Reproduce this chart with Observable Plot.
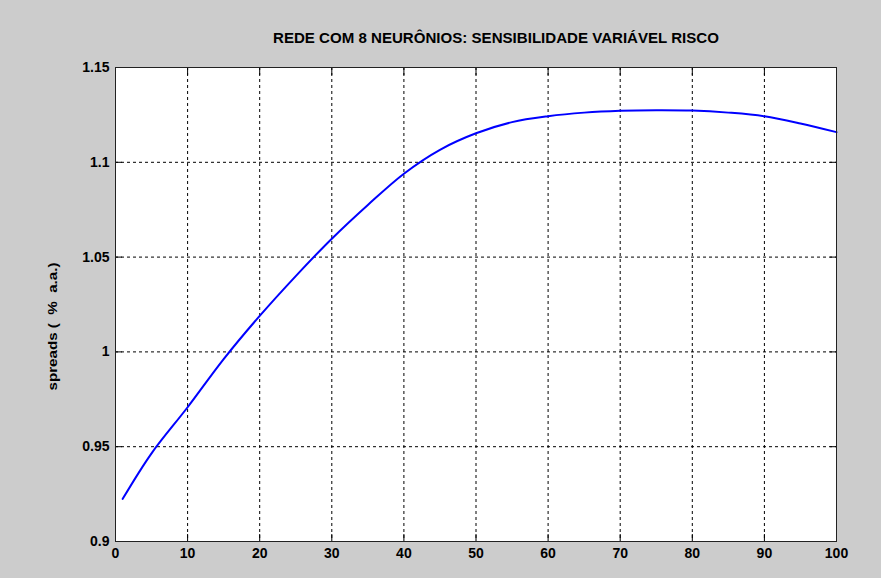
<!DOCTYPE html>
<html>
<head>
<meta charset="utf-8">
<script src="https://cdn.jsdelivr.net/npm/d3@7"></script>
<script src="https://cdn.jsdelivr.net/npm/@observablehq/plot@0.6"></script>
<style>
  html, body { margin: 0; padding: 0; background: #cccccc; }
  #chart { width: 881px; height: 578px; }
</style>
</head>
<body>
<div id="chart"></div>
<script>
// ---- data ----
const xValues = [1, 5, 10, 15, 20, 25, 30, 35, 40, 45, 50, 55, 60, 65, 70, 75, 80, 85, 90, 95, 100];
const spreadValues = [0.9225, 0.9465, 0.9708, 0.9962, 1.0190, 1.0400, 1.0597, 1.0775, 1.0940, 1.1066, 1.1153,
                      1.1212, 1.1243, 1.1262, 1.1272, 1.1275, 1.1273, 1.1262, 1.1243, 1.1205, 1.1159];
const xTicks = [0, 10, 20, 30, 40, 50, 60, 70, 80, 90, 100];
const yTicks = [0.9, 0.95, 1, 1.05, 1.1, 1.15];
const yTickLabels = ["0.9", "0.95", "1", "1.05", "1.1", "1.15"];
const xDomain = [0, 100];
const yDomain = [0.9, 1.15];
const titleText = "REDE COM 8 NEURÔNIOS: SENSIBILIDADE VARIÁVEL RISCO";
const yLabelText = "spreads (  %  a.a.)";

const data = xValues.map((x, i) => ({x, y: spreadValues[i]}));
const yFmt = d => yTickLabels[yTicks.findIndex(t => Math.abs(t - d) < 1e-9)];

const gridStyle = {stroke: "#000", strokeOpacity: 1, strokeWidth: 1, strokeDasharray: "3,3"};
const tickFont = {fontSize: 14, fontWeight: "bold", fill: "#000"};

const chart = Plot.plot({
  width: 881,
  height: 578,
  marginLeft: 115,
  marginRight: 45,
  marginTop: 67,
  marginBottom: 37,
  style: {background: "#cccccc", fontFamily: "'Liberation Sans', Arial, Helvetica, sans-serif", color: "#000"},
  x: {domain: xDomain, label: null},
  y: {domain: yDomain, label: null},
  marks: [
    Plot.frame({fill: "white", stroke: null}),
    Plot.gridX(xTicks, gridStyle),
    Plot.gridY(yTicks, gridStyle),
    // inward tick marks on all four sides
    Plot.axisX(xTicks, {anchor: "bottom", tickSize: -7, text: null, label: null, stroke: "#000", strokeOpacity: 1}),
    Plot.axisX(xTicks, {anchor: "top", tickSize: -7, text: null, label: null, stroke: "#000", strokeOpacity: 1}),
    Plot.axisY(yTicks, {anchor: "left", tickSize: -7, text: null, label: null, stroke: "#000", strokeOpacity: 1}),
    Plot.axisY(yTicks, {anchor: "right", tickSize: -7, text: null, label: null, stroke: "#000", strokeOpacity: 1}),
    // tick labels
    Plot.axisX(xTicks, {anchor: "bottom", tickSize: 0, tickPadding: 7, label: null, ...tickFont}),
    Plot.axisY(yTicks, {anchor: "left", tickSize: 0, tickPadding: 6, label: null, tickFormat: yFmt, ...tickFont}),
    Plot.line(data, {x: "x", y: "y", stroke: "#0000ff", strokeWidth: 2, curve: "catmull-rom"}),
    Plot.frame({stroke: "#222", strokeWidth: 1}),
    Plot.text([titleText], {
      frameAnchor: "top", dx: 20, dy: -36, textAnchor: "middle",
      fontFamily: "'Liberation Sans Narrow', 'Arial Narrow', 'Liberation Sans', sans-serif",
      fontSize: 15.5, fontWeight: "bold", fill: "#000", className: "ttl"
    }),
    Plot.text([yLabelText], {
      frameAnchor: "left", rotate: -90, dx: -63, dy: 22, textAnchor: "middle",
      fontSize: 13, fontWeight: "bold", fill: "#000", className: "ylab"
    })
  ]
});

document.getElementById("chart").appendChild(chart);
// fit title and y label to the reference widths
d3.select(chart).selectAll(".ttl text").attr("textLength", 446).attr("lengthAdjust", "spacingAndGlyphs");
d3.select(chart).selectAll(".ylab text").attr("textLength", 128).attr("lengthAdjust", "spacingAndGlyphs");
</script>
</body>
</html>
